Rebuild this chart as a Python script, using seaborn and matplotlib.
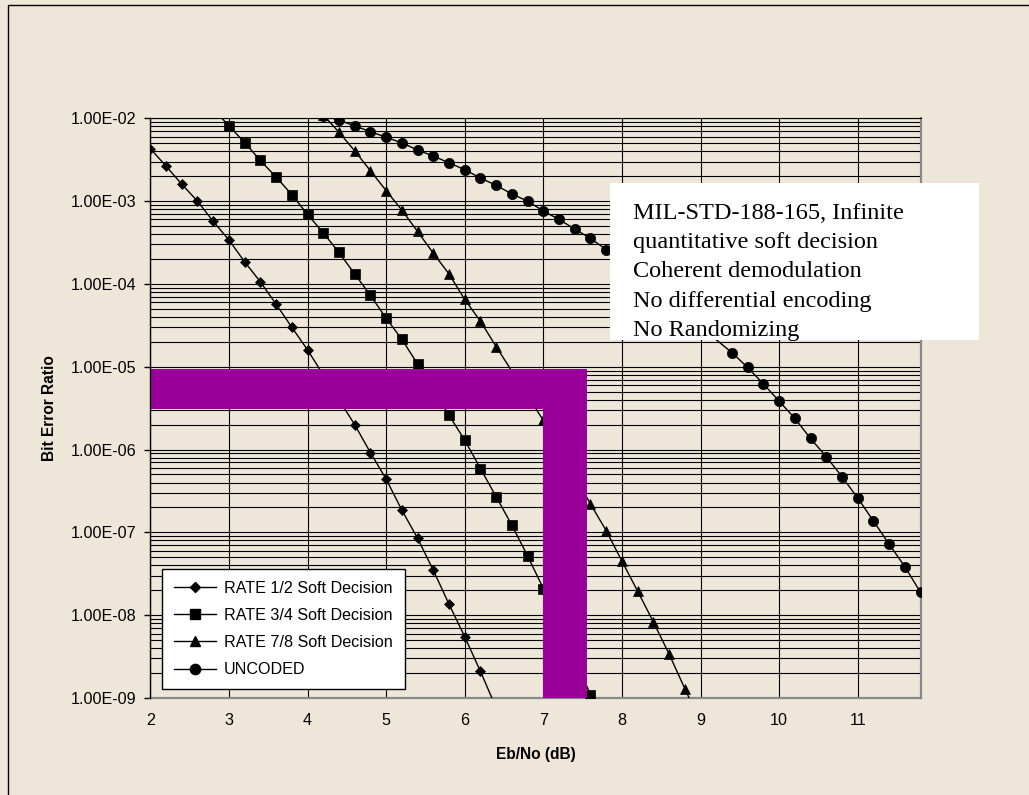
import numpy as np
import pandas as pd
import seaborn as sns
import matplotlib
matplotlib.use("Agg")
import matplotlib.pyplot as plt
from matplotlib.patches import Rectangle
from matplotlib.lines import Line2D
from matplotlib.ticker import LogLocator, NullFormatter

# ---------------- data ----------------
rate12_x = [2.0, 2.2, 2.4, 2.6, 2.8, 3.0, 3.2, 3.4, 3.6, 3.8, 4.0,
            4.6, 4.8, 5.0, 5.2, 5.4, 5.6, 5.8, 6.0, 6.2, 6.4]
rate12_y = [4.3e-3, 2.65e-3, 1.6e-3, 1.0e-3, 5.7e-4, 3.4e-4, 1.85e-4, 1.06e-4, 5.7e-5, 3.0e-5, 1.6e-5,
            2.0e-6, 9.2e-7, 4.4e-7, 1.86e-7, 8.5e-8, 3.5e-8, 1.36e-8, 5.5e-9, 2.1e-9, 7.6e-10]

rate34_x = [2.8, 3.0, 3.2, 3.4, 3.6, 3.8, 4.0, 4.2, 4.4, 4.6, 4.8, 5.0, 5.2, 5.4,
            5.8, 6.0, 6.2, 6.4, 6.6, 6.8, 7.0, 7.6, 7.8]
rate34_y = [1.3e-2, 8.1e-3, 5.1e-3, 3.1e-3, 1.95e-3, 1.2e-3, 6.9e-4, 4.15e-4, 2.4e-4, 1.32e-4, 7.3e-5,
            3.85e-5, 2.15e-5, 1.08e-5,
            2.6e-6, 1.3e-6, 5.9e-7, 2.7e-7, 1.22e-7, 5.2e-8, 2.1e-8, 1.1e-9, 4.5e-10]

rate78_x = [4.2, 4.4, 4.6, 4.8, 5.0, 5.2, 5.4, 5.6, 5.8, 6.0, 6.2, 6.4,
            7.0, 7.6, 7.8, 8.0, 8.2, 8.4, 8.6, 8.8, 9.0]
rate78_y = [1.1e-2, 6.8e-3, 4.05e-3, 2.33e-3, 1.34e-3, 7.8e-4, 4.3e-4, 2.35e-4, 1.32e-4, 6.5e-5,
            3.55e-5, 1.75e-5,
            2.25e-6, 2.2e-7, 1.05e-7, 4.5e-8, 1.95e-8, 8.3e-9, 3.4e-9, 1.3e-9, 5.0e-10]

uncoded_x = [4.2, 4.4, 4.6, 4.8, 5.0, 5.2, 5.4, 5.6, 5.8, 6.0, 6.2, 6.4, 6.6, 6.8, 7.0, 7.2, 7.4, 7.6, 7.8,
             9.4, 9.6, 9.8, 10.0, 10.2, 10.4, 10.6, 10.8, 11.0, 11.2, 11.4, 11.6, 11.8]
uncoded_y = [1.08e-2, 9.5e-3, 8.1e-3, 6.9e-3, 5.9e-3, 5.05e-3, 4.15e-3, 3.5e-3, 2.9e-3, 2.4e-3, 1.9e-3,
             1.55e-3, 1.22e-3, 1.0e-3, 7.6e-4, 6.0e-4, 4.6e-4, 3.55e-4, 2.6e-4,
             1.48e-5, 9.8e-6, 6.2e-6, 3.85e-6, 2.38e-6, 1.36e-6, 8.2e-7, 4.7e-7, 2.6e-7, 1.37e-7,
             7.2e-8, 3.85e-8, 1.88e-8]

series_names = ["RATE 1/2 Soft Decision", "RATE 3/4 Soft Decision",
                "RATE 7/8 Soft Decision", "UNCODED"]

x_ticks = [2, 3, 4, 5, 6, 7, 8, 9, 10, 11]
y_ticks = [1e-9, 1e-8, 1e-7, 1e-6, 1e-5, 1e-4, 1e-3, 1e-2]
y_tick_labels = ["1.00E-09", "1.00E-08", "1.00E-07", "1.00E-06",
                 "1.00E-05", "1.00E-04", "1.00E-03", "1.00E-02"]

note_lines = ["MIL-STD-188-165, Infinite", "quantitative soft decision",
              "Coherent demodulation", "No differential encoding", "No Randomizing"]

# purple highlight (Eb/No, BER limits)
band_x = [2.0, 7.55]
band_y = [3.06e-6, 9.5e-6]
bar_x = [7.0, 7.55]

# ---------------- style ----------------
BG = "#EEE7D9"
PURPLE = "#990099"
plt.rcParams["font.family"] = ["Liberation Sans", "DejaVu Sans"]

W, H = 1029, 795
fig = plt.figure(figsize=(W / 100, H / 100), dpi=100, facecolor=BG)
L, R, T, B = 150.3, 920.6, 118.3, 698.0
ax = fig.add_axes([L / W, 1 - B / H, (R - L) / W, (B - T) / H])
ax.set_facecolor(BG)
ax.set_yscale("log")

markers = ["D", "s", "^", "o"]
msizes = [5.0, 7.2, 7.6, 7.4]
data = [(rate12_x, rate12_y), (rate34_x, rate34_y), (rate78_x, rate78_y), (uncoded_x, uncoded_y)]
for (xs, ys), mk, ms in zip(data, markers, msizes):
    df = pd.DataFrame({"x": xs, "y": ys})
    sns.lineplot(data=df, x="x", y="y", ax=ax, color="black", linewidth=1.0,
                 marker=mk, markersize=ms, markerfacecolor="black",
                 markeredgecolor="black", markeredgewidth=0.5, legend=False,
                 errorbar=None, sort=False, zorder=3)

ax.set_xlim(2, 11.8)
ax.set_ylim(1e-9, 1e-2)

ax.set_xticks(x_ticks)
ax.set_xticklabels([str(v) for v in x_ticks])
ax.set_yticks(y_ticks)
ax.set_yticklabels(y_tick_labels)
ax.yaxis.set_minor_locator(LogLocator(base=10, subs=np.arange(2, 10), numticks=30))
ax.yaxis.set_minor_formatter(NullFormatter())

ax.grid(True, which="both", axis="y", color="black", linewidth=0.8)
ax.grid(True, which="major", axis="x", color="black", linewidth=0.8)
ax.tick_params(axis="y", which="major", length=4, width=1, direction="out",
               pad=6, labelsize=11.6, colors="black")
ax.tick_params(axis="y", which="minor", length=0)
ax.tick_params(axis="x", which="both", length=0, pad=11, labelsize=11.6)

for s in ["bottom", "right"]:
    ax.spines[s].set_color("#888888")
    ax.spines[s].set_linewidth(1.6)
ax.spines["top"].set_color("black")
ax.spines["top"].set_linewidth(0.8)
ax.spines["left"].set_color("black")
ax.spines["left"].set_linewidth(1.0)
ax.spines["left"].set_zorder(6)

ax.set_xlabel("Eb/No (dB)", fontsize=11.2, fontweight="bold", labelpad=13.5)
ax.set_ylabel("Bit Error Ratio", fontsize=11.2, fontweight="bold", labelpad=10)

# purple highlight
ax.add_patch(Rectangle((band_x[0], band_y[0]), band_x[1] - band_x[0], band_y[1] - band_y[0],
                       facecolor=PURPLE, edgecolor="none", zorder=5))
ax.add_patch(Rectangle((bar_x[0], 1e-9), bar_x[1] - bar_x[0], band_y[1] - 1e-9,
                       facecolor=PURPLE, edgecolor="none", zorder=5))

# legend
handles = [Line2D([0], [0], color="black", lw=1.0, marker=mk, markersize=ms,
                  markerfacecolor="black", markeredgecolor="black")
           for mk, ms in zip(markers, msizes)]
leg = ax.legend(handles, series_names, loc="lower left", bbox_to_anchor=(0.015, 0.015),
                frameon=True, fancybox=False, edgecolor="black", facecolor="white",
                framealpha=1, fontsize=11.6, handlelength=2.6, labelspacing=0.75,
                borderpad=0.75, handletextpad=0.5, borderaxespad=0)
leg.get_frame().set_linewidth(1.0)
leg.set_zorder(7)

# annotation box
bx0, bx1, by0, by1 = 610, 979, 183, 340
fig.add_artist(Rectangle((bx0 / W, 1 - by1 / H), (bx1 - bx0) / W, (by1 - by0) / H,
                         transform=fig.transFigure, facecolor="white", edgecolor="none",
                         zorder=10))
for i, line in enumerate(note_lines):
    fig.text(633 / W, 1 - (219 + 29.2 * i) / H, line, fontsize=17.5,
             family=["Liberation Serif", "DejaVu Serif"], color="black",
             ha="left", va="baseline", zorder=11)

# outer chart border
fig.add_artist(Rectangle((8 / W, -0.1), 1.2, 1.1 - 5 / H, transform=fig.transFigure,
                         fill=False, edgecolor="black", linewidth=1.0, zorder=12))

fig.savefig("out.png", dpi=100, facecolor=BG)
